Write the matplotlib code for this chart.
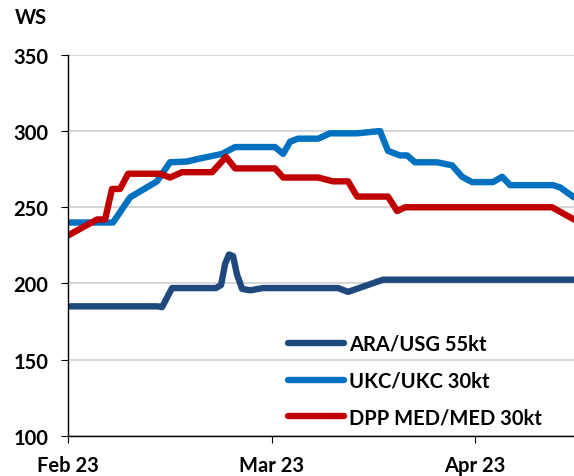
import matplotlib.pyplot as plt

# x positions are in months from the start of Feb 2023 (0 = Feb, 1 = Mar, 2 = Apr)
month_ticks = [0, 1, 2]
month_labels = ['Feb 23', 'Mar 23', 'Apr 23']

ara_x = [0, 0.442, 0.462, 0.511, 0.727, 0.752, 0.772, 0.791, 0.811, 0.830,
         0.855, 0.894, 0.958, 1.327, 1.376, 1.548, 2.486]
ara_y = [185, 185, 184.5, 197, 197, 199, 213, 219, 218, 206,
         196.5, 195.5, 197, 197, 194.5, 202.5, 202.5]

ukc_x = [0, 0.221, 0.305, 0.437, 0.501, 0.585, 0.649, 0.757, 0.821, 1.017,
         1.057, 1.091, 1.130, 1.229, 1.287, 1.420, 1.533, 1.572, 1.631, 1.666,
         1.705, 1.813, 1.887, 1.936, 1.985, 2.088, 2.133, 2.172, 2.383, 2.418,
         2.486]
ukc_y = [240, 240, 256.5, 267, 279.5, 280, 282, 285, 289.5, 289.5,
         285, 293, 295, 295, 298.5, 298.5, 300, 287, 284, 284,
         279.5, 279.5, 277.5, 270, 266.5, 266.5, 270, 264.5, 264.5, 263,
         256.5]

med_x = [0, 0.143, 0.182, 0.216, 0.256, 0.295, 0.452, 0.501, 0.560, 0.708,
         0.776, 0.821, 1.017, 1.057, 1.229, 1.302, 1.376, 1.420, 1.572, 1.617,
         1.656, 2.378, 2.486]
med_y = [231.5, 242, 242, 262, 262, 272, 272, 269.5, 273, 273,
         283, 275.5, 275.5, 269.5, 269.5, 267, 267, 257, 257, 247.5,
         250, 250, 242]

plt.rcParams['font.family'] = ['Lato', 'DejaVu Sans']
plt.rcParams['font.weight'] = 'bold'

fig = plt.figure(figsize=(5.74, 4.77), dpi=100)
ax = fig.add_axes([0.1185, 0.084, 0.8815, 0.799])

style = dict(lw=4.6, solid_capstyle='round', solid_joinstyle='round')
ax.plot(ara_x, ara_y, color='#1F497D', label='ARA/USG 55kt', **style)
ax.plot(ukc_x, ukc_y, color='#0070C0', label='UKC/UKC 30kt', **style)
ax.plot(med_x, med_y, color='#C00000', label='DPP MED/MED 30kt', **style)

ax.set_ylim(100, 350)
ax.set_xlim(0, 2.486)
ax.set_yticks([100, 150, 200, 250, 300, 350])
ax.set_xticks(month_ticks)
ax.set_xticklabels(month_labels)
ax.yaxis.grid(True, color='#D0D0D0', lw=1.2)
ax.set_axisbelow(True)

for s in ['top', 'right']:
    ax.spines[s].set_visible(False)
for s in ['left', 'bottom']:
    ax.spines[s].set_color('black')
    ax.spines[s].set_linewidth(1.0)

ax.tick_params(axis='y', direction='out', length=5, pad=9, labelsize=14.5, color='black')
ax.tick_params(axis='x', direction='out', length=5, pad=9, labelsize=14.5, color='black')

fig.text(0.025, 0.962, 'WS', fontsize=14.5, fontweight='bold', va='center', ha='left')

leg = ax.legend(loc='lower left', bbox_to_anchor=(0.398, -0.025), frameon=False,
                fontsize=14.5, handlelength=2.8, labelspacing=0.83, handletextpad=0.25)

fig.savefig('out.png', dpi=100)
